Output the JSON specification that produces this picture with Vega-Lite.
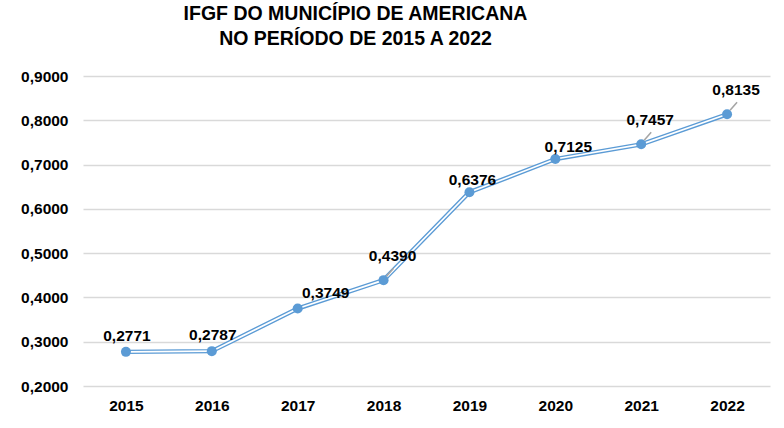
{
  "$schema": "https://vega.github.io/schema/vega-lite/v6.json",
  "width": 687,
  "height": 310,
  "autosize": {"type": "none"},
  "padding": {"left": 83, "top": 76, "right": 14, "bottom": 42},
  "background": "#ffffff",
  "config": {
    "view": {"stroke": null},
    "font": "Liberation Sans",
    "text": {
      "font": "Liberation Sans",
      "fontSize": 15.5,
      "fontWeight": "bold",
      "color": "#000000"
    }
  },
  "title": {
    "text": ["IFGF DO MUNICÍPIO DE AMERICANA", "NO PERÍODO DE 2015 A 2022"],
    "font": "Liberation Sans",
    "fontSize": 19.5,
    "fontWeight": "bold",
    "color": "#000000",
    "anchor": "middle",
    "dx": -71,
    "offset": 20,
    "lineHeight": 25
  },
  "data": {
    "values": [
      {"ano": "2015", "ifgf": 0.2771},
      {"ano": "2016", "ifgf": 0.2787},
      {"ano": "2017", "ifgf": 0.3749},
      {"ano": "2018", "ifgf": 0.4390},
      {"ano": "2019", "ifgf": 0.6376},
      {"ano": "2020", "ifgf": 0.7125},
      {"ano": "2021", "ifgf": 0.7457},
      {"ano": "2022", "ifgf": 0.8135}
    ]
  },
  "encoding": {
    "x": {
      "field": "ano",
      "type": "ordinal",
      "title": null,
      "scale": {"type": "point", "padding": 0.5},
      "axis": {
        "domain": false,
        "ticks": false,
        "labelAngle": 0,
        "labelFont": "Liberation Sans",
        "labelFontSize": 15.5,
        "labelFontWeight": "bold",
        "labelColor": "#000000",
        "labelPadding": 12
      }
    },
    "y": {
      "field": "ifgf",
      "type": "quantitative",
      "title": null,
      "scale": {"domain": [0.2, 0.9], "nice": false, "zero": false},
      "axis": {
        "values": [0.2, 0.3, 0.4, 0.5, 0.6, 0.7, 0.8, 0.9],
        "domain": false,
        "ticks": false,
        "grid": true,
        "gridColor": "#d9d9d9",
        "gridWidth": 1.3,
        "labelExpr": "replace(format(datum.value, '.4f'), '.', ',')",
        "labelFont": "Liberation Sans",
        "labelFontSize": 15.5,
        "labelFontWeight": "bold",
        "labelColor": "#000000",
        "labelPadding": 15
      }
    }
  },
  "layer": [
    {"mark": {"type": "line", "color": "#5b9bd5", "strokeWidth": 4.4}},
    {"mark": {"type": "line", "color": "#ffffff", "strokeWidth": 1.7}},
    {"mark": {"type": "point", "filled": true, "color": "#5b9bd5", "opacity": 1, "size": 100}},
    {
      "transform": [{"filter": {"field": "ano", "oneOf": ["2018", "2021", "2022"]}}],
      "mark": {
        "type": "rule",
        "color": "#a5a5a5",
        "strokeWidth": 1.5,
        "xOffset": 3,
        "yOffset": -4,
        "x2Offset": 10,
        "y2Offset": -12
      },
      "encoding": {
        "x2": {"field": "ano"},
        "y2": {"field": "ifgf"}
      }
    },
    {
      "transform": [{"filter": {"field": "ano", "oneOf": ["2015", "2016"]}}],
      "mark": {"type": "text", "dx": 1, "dy": -16, "text": {"expr": "replace(format(datum.ifgf, '.4f'), '.', ',')"}}
    },
    {
      "transform": [{"filter": {"field": "ano", "equal": "2017"}}],
      "mark": {"type": "text", "dx": 28, "dy": -16, "text": {"expr": "replace(format(datum.ifgf, '.4f'), '.', ',')"}}
    },
    {
      "transform": [{"filter": {"field": "ano", "oneOf": ["2018", "2021", "2022"]}}],
      "mark": {"type": "text", "dx": 9, "dy": -24, "text": {"expr": "replace(format(datum.ifgf, '.4f'), '.', ',')"}}
    },
    {
      "transform": [{"filter": {"field": "ano", "equal": "2019"}}],
      "mark": {"type": "text", "dx": 3, "dy": -12, "text": {"expr": "replace(format(datum.ifgf, '.4f'), '.', ',')"}}
    },
    {
      "transform": [{"filter": {"field": "ano", "equal": "2020"}}],
      "mark": {"type": "text", "dx": 13, "dy": -12, "text": {"expr": "replace(format(datum.ifgf, '.4f'), '.', ',')"}}
    }
  ]
}
